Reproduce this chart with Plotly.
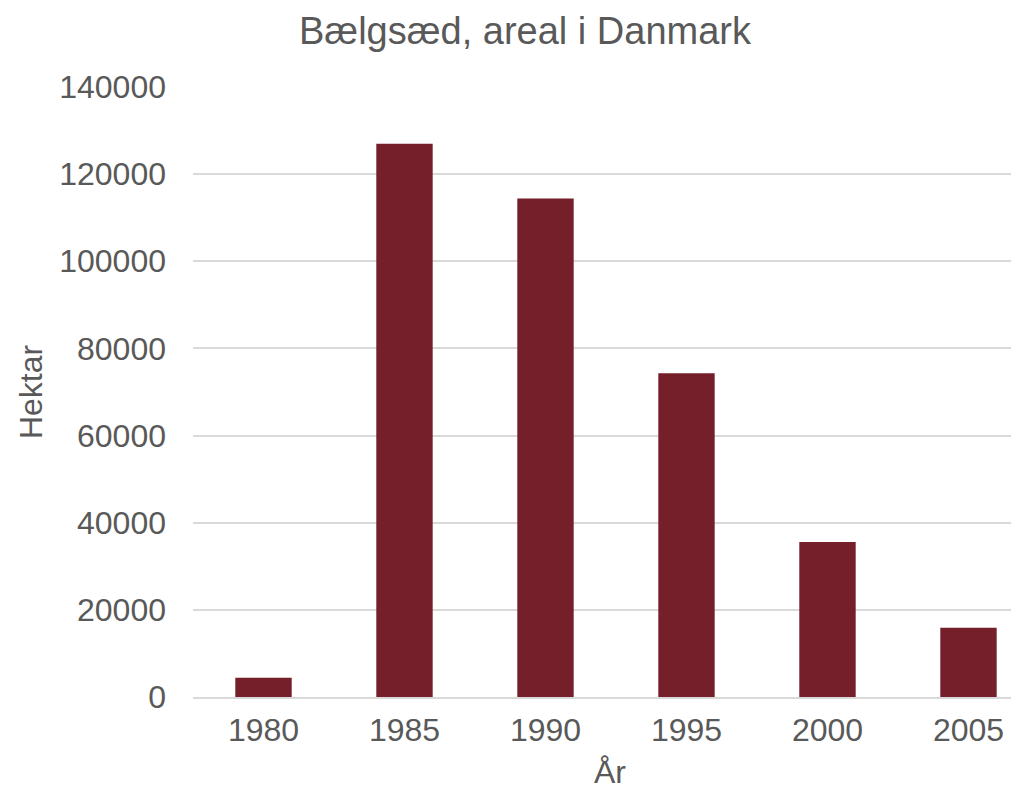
import plotly.graph_objects as go

years = ["1980", "1985", "1990", "1995", "2000", "2005"]
hektar = [4400, 127000, 114400, 74300, 35600, 15900]
y_ticks = [0, 20000, 40000, 60000, 80000, 100000, 120000, 140000]

grey = "#595959"
font_family = "Liberation Sans, Arial, sans-serif"

fig = go.Figure(go.Bar(x=years, y=hektar, marker=dict(color="#741F29", line=dict(width=0)), width=0.4))

fig.update_layout(
    width=1019, height=792,
    paper_bgcolor="white", plot_bgcolor="white",
    margin=dict(l=185, r=0, t=79, b=103, autoexpand=False),
    font=dict(family=font_family, color=grey, size=32),
    title=dict(text="Bælgsæd, areal i Danmark", x=517 / 1019, xanchor="center", y=1 - 23 / 792, yanchor="middle",
               font=dict(size=38, color=grey, family=font_family)),
    showlegend=False,
)
fig.update_xaxes(
    type="category", range=[-0.5, 5.415], automargin=False,
    showgrid=False, showline=True, linecolor="#D9D9D9", linewidth=1.5,
    ticks="", ticklabelstandoff=4,
    title=dict(text="År", standoff=13, font=dict(size=32, color=grey)),
    tickfont=dict(size=32, color=grey),
)
fig.update_yaxes(
    range=[0, 140000], tickvals=y_ticks, ticktext=[str(v) for v in y_ticks], automargin=False,
    showgrid=True, gridcolor="#D9D9D9", gridwidth=1.5, zeroline=False,
    ticks="", ticklabelstandoff=26,
    title=dict(text="Hektar", standoff=7, font=dict(size=32, color=grey)),
    tickfont=dict(size=32, color=grey),
)

fig.write_html("out.html")
